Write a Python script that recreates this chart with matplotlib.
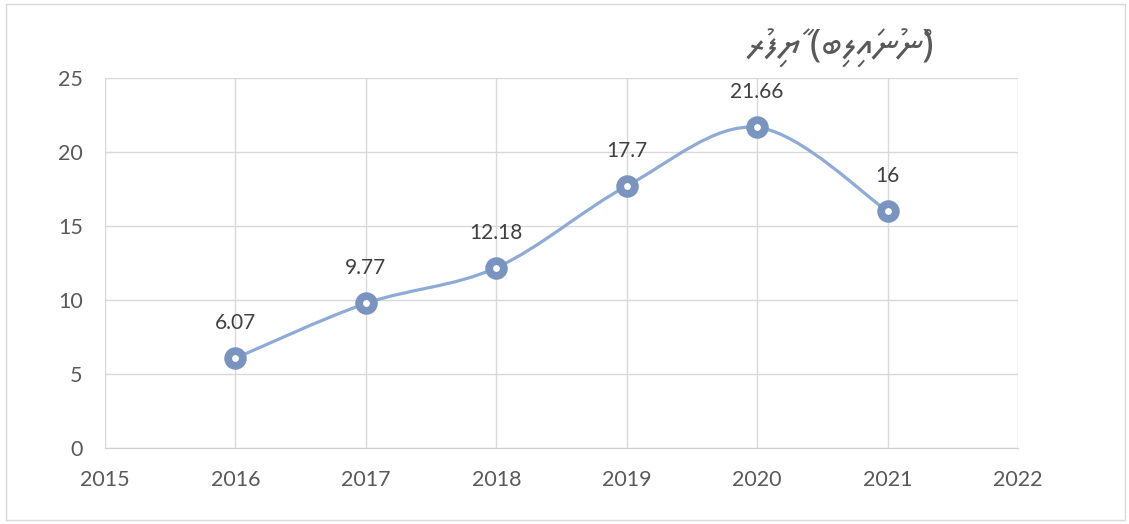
import matplotlib
matplotlib.use("Agg")
import matplotlib.pyplot as plt
from matplotlib.path import Path
from matplotlib.patches import PathPatch, Rectangle
import numpy as np

years = [2016, 2017, 2018, 2019, 2020, 2021]
values = [6.07, 9.77, 12.18, 17.7, 21.66, 16]
labels = ["6.07", "9.77", "12.18", "17.7", "21.66", "16"]
title = "ރުފިޔާ (ބިލިއަނުން)"

line_color = "#8eaad6"
marker_color = "#7a94c0"
grid_color = "#d9d9d9"
tick_color = "#595959"
font = ["Lato", "DejaVu Sans"]

fig = plt.figure(figsize=(11.29, 5.24), dpi=100)
fig.patches.append(Rectangle((6/1129, 4/524), 1119/1129, 516/524, transform=fig.transFigure,
                             fill=False, edgecolor="#d9d9d9", linewidth=1.0))
ax = fig.add_axes([105/1129, 1 - 448/524, (1018 - 105)/1129, (448 - 78)/524])

# smoothed line via cubic Bezier (Catmull-Rom control points)
x = np.array(years, dtype=float)
y = np.array(values, dtype=float)
verts = [(x[0], y[0])]
codes = [Path.MOVETO]
n = len(x)
for i in range(n - 1):
    p0 = np.array([x[max(i - 1, 0)], y[max(i - 1, 0)]])
    p1 = np.array([x[i], y[i]])
    p2 = np.array([x[i + 1], y[i + 1]])
    p3 = np.array([x[min(i + 2, n - 1)], y[min(i + 2, n - 1)]])
    c1 = p1 + (p2 - p0) / 6.0
    c2 = p2 - (p3 - p1) / 6.0
    verts += [tuple(c1), tuple(c2), tuple(p2)]
    codes += [Path.CURVE4, Path.CURVE4, Path.CURVE4]
ax.add_patch(PathPatch(Path(verts, codes), facecolor="none", edgecolor=line_color,
                       linewidth=2.3, zorder=3, capstyle="round"))

ax.plot(years, values, linestyle="none", marker="o", markersize=10.6,
        markerfacecolor="white", markeredgecolor=marker_color, markeredgewidth=5.6, zorder=4)

for xi, yi, lab in zip(years, values, labels):
    ax.annotate(lab, (xi, yi), xytext=(0, 18), textcoords="offset points",
                ha="center", va="bottom", fontsize=15, color="#404040", family=font)

ax.set_xlim(2015, 2022)
ax.set_ylim(0, 25)
ax.set_xticks(range(2015, 2023))
ax.set_yticks(range(0, 26, 5))
ax.grid(True, color=grid_color, linewidth=1.0)
ax.set_axisbelow(True)
for s in ["top", "right", "left"]:
    ax.spines[s].set_visible(False)
ax.spines["bottom"].set_color("#d0d0d0")
ax.tick_params(length=0, labelsize=15.5, colors=tick_color)
ax.tick_params(axis="x", pad=16)
ax.tick_params(axis="y", pad=16)
for lab in ax.get_xticklabels() + ax.get_yticklabels():
    lab.set_family(font)

fig.text(840/1129, 1 - 48/524, title, ha="center", va="center", fontsize=27,
         color="#595959", family=["Noto Sans Thaana", "DejaVu Sans"])

fig.savefig("out.png", dpi=100)
